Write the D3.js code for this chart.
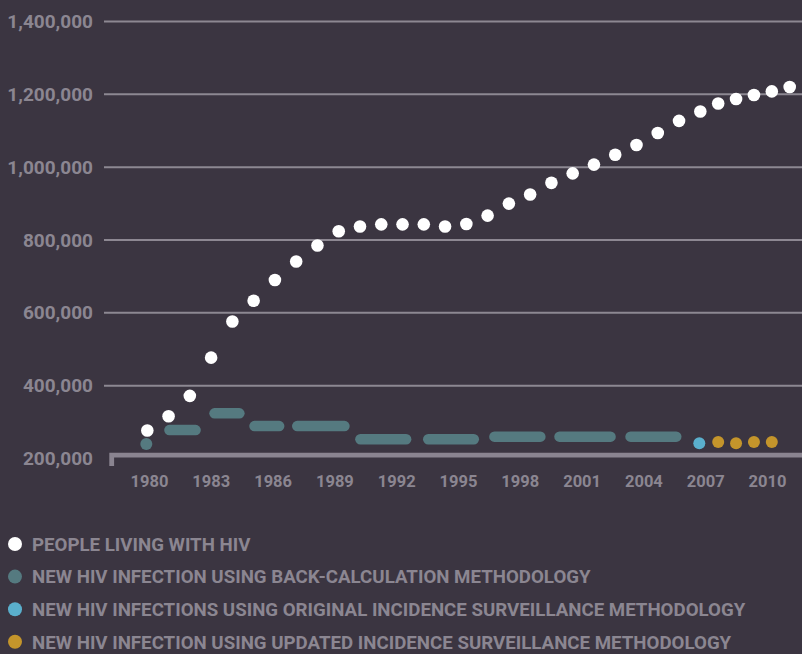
<html>
  <head>
    <title>People living with HIV / new HIV infections</title>
    <script src="https://cdn.jsdelivr.net/npm/d3@7/dist/d3.min.js"></script>
    <style>
      body { margin: 0; background-color: #3b3541; }
      text { font-family: Roboto, 'Open Sans', sans-serif; }
    </style>
  </head>
  <body>
    <svg width="802" height="654" id="mainsvg" style="background-color: #3b3541;"></svg>
    <script>
        // people living with HIV, one point per year
        const years = [1980, 1981, 1982, 1983, 1984, 1985, 1986, 1987, 1988, 1989,
                       1990, 1991, 1992, 1993, 1994, 1995, 1996, 1997, 1998, 1999,
                       2000, 2001, 2002, 2003, 2004, 2005, 2006, 2007, 2008, 2009,
                       2010, 2011];
        const plwh = [277000, 316000, 372000, 477000, 576000, 633000, 690000, 741000, 785000, 824000,
                      837000, 843000, 843000, 843000, 837000, 844000, 867000, 900000, 925000, 957000,
                      983000, 1007000, 1034000, 1061000, 1094000, 1127000, 1153000, 1175000, 1187000, 1198000,
                      1208000, 1220000];

        // back-calculation: each estimate covers a period (start/end year)
        const backCalcStart = [1980, 1981.04, 1983.16, 1985.04, 1987.05, 1990.02, 1993.21, 1996.32, 1999.38, 2002.72];
        const backCalcEnd   = [1980, 1982.27, 1984.33, 1986.2, 1989.27, 1992.17, 1995.35, 1998.48, 2001.78, 2004.87];
        const backCalcValues = [240000, 278000, 324000, 289000, 289000, 253000, 253000, 260000, 260000, 260000];

        // incidence surveillance, original and updated
        const origYears = [2006];
        const origValues = [242000];
        const updYears = [2007, 2008, 2009, 2010];
        const updValues = [245000, 242000, 245000, 245000];

        const yTicks = [200000, 400000, 600000, 800000, 1000000, 1200000, 1400000];
        const xTicks = [1980, 1983, 1986, 1989, 1992, 1995, 1998, 2001, 2004, 2007, 2010];

        const legendNames = [
            'PEOPLE LIVING WITH HIV',
            'NEW HIV INFECTION USING BACK-CALCULATION METHODOLOGY',
            'NEW HIV INFECTIONS USING ORIGINAL INCIDENCE SURVEILLANCE METHODOLOGY',
            'NEW HIV INFECTION USING UPDATED INCIDENCE SURVEILLANCE METHODOLOGY'
        ];
        const legendColors = ['#ffffff', '#557a80', '#5aafcc', '#c4952b'];

        const svg = d3.select('#mainsvg');
        const width = +svg.attr('width');
        const height = +svg.attr('height');
        const gridColor = '#8d8892';
        const textColor = '#8b8691';

        // points run a bit wider than the year labels in the original, and squeeze after 2006
        const xScale = d3.scaleLinear()
            .domain([1980, 2006, 2011])
            .range([147.3, 700.3, 789.7]);
        const xTickScale = d3.scaleLinear()
            .domain([1980, 2010])
            .range([149, 767]);
        const yScale = d3.scaleLinear()
            .domain([200000, 1400000])
            .range([458.5, 21.5]);

        const g = svg.append('g').attr('id', 'maingroup');

        // gridlines (200,000 gets the thick baseline instead)
        g.selectAll('.grid')
            .data(yTicks.filter(d => d !== 200000))
            .enter().append('line')
            .attr('class', 'grid')
            .attr('x1', 104)
            .attr('x2', width)
            .attr('y1', d => yScale(d))
            .attr('y2', d => yScale(d))
            .attr('stroke', gridColor)
            .attr('stroke-width', 2);

        g.append('path')
            .attr('d', `M111.7,466V${yScale(200000) - 3.3}H${width}`)
            .attr('fill', 'none')
            .attr('stroke', '#8a8490')
            .attr('stroke-width', 4.8);

        // y axis labels
        const yAxis = d3.axisLeft(yScale)
            .tickValues(yTicks)
            .tickFormat(d3.format(','))
            .tickSize(0)
            .tickPadding(0);
        const yAxisGroup = g.append('g').attr('transform', 'translate(93,0)').call(yAxis);
        yAxisGroup.select('.domain').remove();
        yAxisGroup.selectAll('text')
            .attr('fill', textColor)
            .attr('font-size', '19px')
            .attr('font-weight', 'bold')
            .attr('font-family', 'Roboto, sans-serif');

        // x axis labels
        const xAxis = d3.axisBottom(xTickScale)
            .tickValues(xTicks)
            .tickFormat(d3.format('d'))
            .tickSize(0)
            .tickPadding(0);
        const xAxisGroup = g.append('g').attr('transform', 'translate(0,475)').call(xAxis);
        xAxisGroup.select('.domain').remove();
        xAxisGroup.selectAll('text')
            .attr('fill', textColor)
            .attr('font-size', '16.5px')
            .attr('font-weight', 'bold')
            .attr('font-family', 'Roboto, sans-serif');

        // back-calculation periods as rounded dashes
        const backCalc = backCalcStart.map((s, i) => ({start: s, end: backCalcEnd[i], value: backCalcValues[i]}));
        g.selectAll('.backcalc')
            .data(backCalc.filter(d => d.end > d.start))
            .enter().append('line')
            .attr('class', 'backcalc')
            .attr('x1', d => xScale(d.start))
            .attr('x2', d => xScale(d.end))
            .attr('y1', d => yScale(d.value))
            .attr('y2', d => yScale(d.value))
            .attr('stroke', legendColors[1])
            .attr('stroke-width', 10.5)
            .attr('stroke-linecap', 'round');
        g.selectAll('.backcalc_pt')
            .data(backCalc.filter(d => d.end === d.start))
            .enter().append('circle')
            .attr('class', 'backcalc_pt')
            .attr('cx', d => xScale(d.start) - 1)
            .attr('cy', d => yScale(d.value))
            .attr('r', 6)
            .attr('fill', legendColors[1]);

        g.selectAll('.orig')
            .data(origYears)
            .enter().append('circle')
            .attr('class', 'orig')
            .attr('cx', d => xScale(d) - 1)
            .attr('cy', (d, i) => yScale(origValues[i]))
            .attr('r', 6)
            .attr('fill', legendColors[2]);

        g.selectAll('.upd')
            .data(updYears)
            .enter().append('circle')
            .attr('class', 'upd')
            .attr('cx', d => xScale(d))
            .attr('cy', (d, i) => yScale(updValues[i]))
            .attr('r', 6)
            .attr('fill', legendColors[3]);

        g.selectAll('.plwh')
            .data(years)
            .enter().append('circle')
            .attr('class', 'plwh')
            .attr('cx', d => xScale(d))
            .attr('cy', (d, i) => yScale(plwh[i]))
            .attr('r', 6.3)
            .attr('fill', legendColors[0]);

        // legend
        const legend = g.selectAll('.legend')
            .data(legendNames)
            .enter().append('g')
            .attr('class', 'legend')
            .attr('transform', (d, i) => `translate(15, ${544 + i * 32.6})`);
        legend.append('circle')
            .attr('r', 7)
            .attr('fill', (d, i) => legendColors[i]);
        legend.append('text')
            .attr('x', 17)
            .attr('dy', '0.36em')
            .attr('fill', textColor)
            .attr('font-size', '18.7px')
            .attr('font-weight', 'bold')
            .text(d => d);
    </script>
  </body>
</html>
